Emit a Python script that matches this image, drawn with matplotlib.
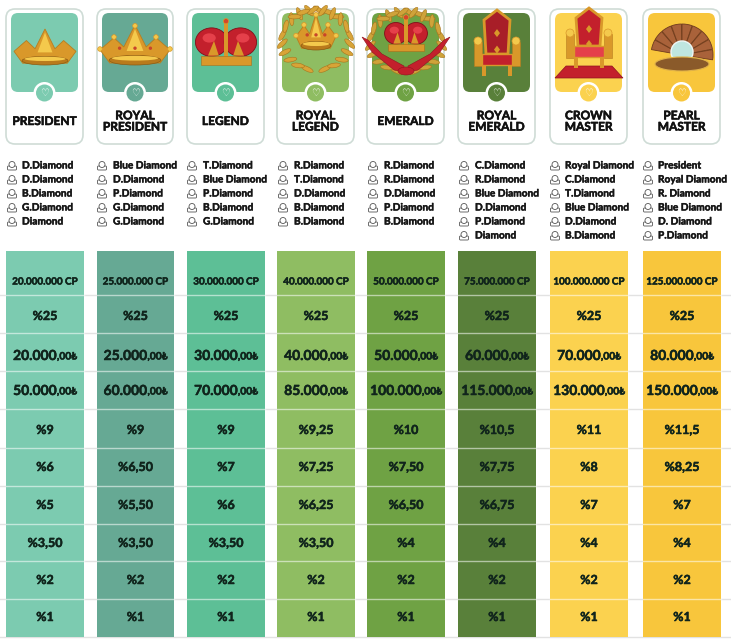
import numpy as np
import matplotlib
matplotlib.use('Agg')
import matplotlib.pyplot as plt
import matplotlib.patheffects as pe
from matplotlib.patches import Rectangle, FancyBboxPatch, Circle, Polygon, Ellipse, Wedge

plt.rcParams['font.family'] = ['Lato', 'DejaVu Sans']

# data
titles = ['PRESIDENT', 'ROYAL\nPRESIDENT', 'LEGEND', 'ROYAL\nLEGEND', 'EMERALD',
          'ROYAL\nEMERALD', 'CROWN\nMASTER', 'PEARL\nMASTER']
sponsors = [
    ['D.Diamond', 'D.Diamond', 'B.Diamond', 'G.Diamond', 'Diamond'],
    ['Blue Diamond', 'D.Diamond', 'P.Diamond', 'G.Diamond', 'G.Diamond'],
    ['T.Diamond', 'Blue Diamond', 'P.Diamond', 'B.Diamond', 'G.Diamond'],
    ['R.Diamond', 'T.Diamond', 'D.Diamond', 'B.Diamond', 'B.Diamond'],
    ['R.Diamond', 'R.Diamond', 'D.Diamond', 'P.Diamond', 'B.Diamond'],
    ['C.Diamond', 'R.Diamond', 'Blue Diamond', 'D.Diamond', 'P.Diamond', 'Diamond'],
    ['Royal Diamond', 'C.Diamond', 'T.Diamond', 'Blue Diamond', 'D.Diamond', 'B.Diamond'],
    ['President', 'Royal Diamond', 'R. Diamond', 'Blue Diamond', 'D. Diamond', 'P.Diamond'],
]
cp_req = ['20.000.000 CP', '25.000.000 CP', '30.000.000 CP', '40.000.000 CP',
          '50.000.000 CP', '75.000.000 CP', '100.000.000 CP', '125.000.000 CP']
rate_a = ['%25'] * 8
bonus_a = ['20.000', '25.000', '30.000', '40.000', '50.000', '60.000', '70.000', '80.000']
bonus_b = ['50.000', '60.000', '70.000', '85.000', '100.000', '115.000', '130.000', '150.000']
rate_b = ['%9', '%9', '%9', '%9,25', '%10', '%10,5', '%11', '%11,5']
rate_c = ['%6', '%6,50', '%7', '%7,25', '%7,50', '%7,75', '%8', '%8,25']
rate_d = ['%5', '%5,50', '%6', '%6,25', '%6,50', '%6,75', '%7', '%7']
rate_e = ['%3,50', '%3,50', '%3,50', '%3,50', '%4', '%4', '%4', '%4']
rate_f = ['%2'] * 8
rate_g = ['%1'] * 8
rows = [cp_req, rate_a, bonus_a, bonus_b, rate_b, rate_c, rate_d, rate_e, rate_f, rate_g]

# layout, in pixels of the image
left = [6, 97, 187, 277, 367, 458, 550, 643]
right = [84, 174, 265, 355, 445, 536, 628, 721]
colors = ['#7ccbb0', '#66a994', '#5dbf96', '#8fbd62', '#6fa244', '#59803a', '#fbd24f', '#f8c63c']
text_x = [22, 113, 203, 294, 384, 475, 565, 658]
icon_x = [12, 102, 192, 283, 373, 464, 555, 648]
line_y = [166, 180, 194, 208, 222, 236]
row_edges = [251, 295, 333, 371, 409, 448, 486, 524, 561, 599, 637]
row_text_y = [282, 316, 356, 391, 430, 467, 505, 543, 580, 617]
dark = '#10241c'
GOLD, GOLD2, RED, RED2 = '#d9982a', '#f4c94c', '#c3202c', '#e5404a'
thick = [pe.withStroke(linewidth=0.35, foreground=dark)]

fig = plt.figure(figsize=(7.31, 6.41), dpi=100)
ax = fig.add_axes([0, 0, 1, 1])
ax.set_xlim(0, 731)
ax.set_ylim(641, 0)
ax.axis('off')


def crown(cx, base, w, h, color=GOLD, top=GOLD2, balls=False, z=3):
    xs = [-0.5, -0.3, -0.16, 0, 0.16, 0.3, 0.5, 0.36, -0.36]
    ys = [0.62, 0.32, 0.55, 0, 0.55, 0.32, 0.62, 0.95, 0.95]
    pts = [(cx + x * w, base - h + y * h) for x, y in zip(xs, ys)]
    ax.add_patch(Polygon(pts, fc=color, ec='#b87d1e', lw=0.6, zorder=z))
    ax.add_patch(Polygon([(cx, base - h * 0.9), (cx + w * 0.12, base - h * 0.35), (cx - w * 0.12, base - h * 0.35)],
                         fc=top, ec='none', zorder=z + 0.1))
    ax.add_patch(Ellipse((cx, base - h * 0.12), w * 0.74, h * 0.24, fc='#b97a1c', ec='#8b5a12', lw=0.5, zorder=z + 0.2))
    ax.add_patch(Ellipse((cx, base - h * 0.17), w * 0.66, h * 0.12, fc=top, ec='none', zorder=z + 0.3))
    if balls:
        for x, y in [(-0.5, 0.6), (-0.3, 0.3), (0, 0.02), (0.3, 0.3), (0.5, 0.6)]:
            ax.add_patch(Circle((cx + x * w, base - h + y * h), 2.3, fc=top, ec=color, lw=0.5, zorder=z + 0.4))
        for x in (-0.22, 0, 0.22):
            ax.add_patch(Circle((cx + x * w, base - h * 0.42), 1.7, fc='#c8452a', zorder=z + 0.4))


def red_crown(cx, base, w, h, z=3):
    for side in (-1, 1):
        ax.add_patch(Ellipse((cx + side * w * 0.24, base - h * 0.52), w * 0.54, h * 0.68, fc=RED, ec='#7e1019', lw=0.6, zorder=z))
        ax.add_patch(Ellipse((cx + side * w * 0.28, base - h * 0.62), w * 0.22, h * 0.22, fc=RED2, ec='none', zorder=z + 0.1))
        ax.add_patch(Polygon([(cx + side * w * 0.12, base - h * 0.2), (cx + side * w * 0.2, base - h * 0.55),
                              (cx + side * w * 0.3, base - h * 0.2)], fc=GOLD, ec='none', zorder=z + 0.2))
    ax.add_patch(Rectangle((cx - 2, base - h * 1.0), 4, h * 0.98, fc=GOLD, zorder=z + 0.3))
    ax.add_patch(Circle((cx, base - h * 1.02), 2.6, fc='#d5452c', ec=GOLD, lw=0.5, zorder=z + 0.4))
    ax.add_patch(Rectangle((cx - w * 0.42, base - h * 0.18), w * 0.84, h * 0.2, fc=GOLD, ec='#a86e18', lw=0.4, zorder=z + 0.5))


def laurel(cx, cy, rx, ry, color, leaf):
    for side in (-1, 1):
        for deg in range(-75, 130, 17):
            a = np.deg2rad(deg)
            x = cx + side * rx * np.cos(a)
            y = cy - ry * np.sin(a)
            ax.add_patch(Ellipse((x, y), 13, 4.5, angle=side * (deg + 50), fc=leaf, ec=color, lw=0.4, zorder=2.5))


def throne(cx, base, back, seat, trim, top):
    ax.add_patch(Polygon([(cx - 11, base - 22), (cx - 13, top + 10), (cx, top), (cx + 13, top + 10), (cx + 11, base - 22)],
                         fc=back, ec=trim, lw=2, zorder=3))
    for dy in (0.35, 0.6):
        ax.add_patch(Polygon([(cx, top + dy * (base - top) - 4), (cx + 3, top + dy * (base - top)),
                              (cx, top + dy * (base - top) + 4), (cx - 3, top + dy * (base - top))], fc=trim, zorder=3.2))
    for side in (-1, 1):
        ax.add_patch(Rectangle((cx + side * 19 - 4, base - 34), 8, 24, fc=trim, ec='#b87d1e', lw=0.4, zorder=4))
        ax.add_patch(Circle((cx + side * 19, base - 35), 4, fc=GOLD2, ec=trim, lw=0.5, zorder=4))
        ax.add_patch(Rectangle((cx + side * 13 - 2, base - 11), 4, 11, fc=trim, zorder=4))
    ax.add_patch(Rectangle((cx - 15, base - 22), 30, 11, fc=seat, ec=trim, lw=1, zorder=4))


# cards
for i in range(8):
    x0, x1, c = left[i], right[i] - 1, colors[i]
    ax.add_patch(FancyBboxPatch((x0 + 4, 13), x1 - x0 - 8, 127, boxstyle='round,pad=4,rounding_size=9',
                                fc='white', ec='#cfdcd6', lw=1.2, zorder=1))
    ax.add_patch(FancyBboxPatch((x0 + 10, 18), x1 - x0 - 20, 69, boxstyle='round,pad=5,rounding_size=7',
                                fc=c, ec='none', zorder=1.5))
    cx = (x0 + x1) / 2
    ax.add_patch(Circle((cx, 93), 11, fc='white', ec='none', zorder=6))
    ax.add_patch(Circle((cx, 93), 8.5, fc=c, ec='none', zorder=6))
    ax.text(cx, 93, '\u2661', color='white', fontsize=7, ha='center', va='center',
            family=['DejaVu Sans'], zorder=7)
    ax.text(cx, 121.5, titles[i], color='#111', fontsize=8.6, fontweight='bold', ha='center',
            va='center', linespacing=1.02, zorder=7, path_effects=[pe.withStroke(linewidth=0.4, foreground='#111')])

# icons of the ranks
crown(45, 65, 62, 36)
crown(135, 65, 70, 40, balls=True)
red_crown(226, 64, 60, 42)
laurel(316, 40, 34, 30, '#a8741c', '#d8a437')
crown(316, 50, 40, 36, balls=True)
laurel(406, 42, 36, 30, '#a8741c', '#cfa33a')
for side in (-1, 1):
    ax.add_patch(Polygon([(406 + side * 44, 37), (406 + side * 34, 52), (406 + side * 12, 70), (406 + side * 2, 72),
                          (406 + side * 2, 66), (406 + side * 24, 54), (406 + side * 38, 40)],
                         fc=RED, ec='#8e1420', lw=0.4, zorder=2.7))
ax.add_patch(Ellipse((406, 71), 16, 8, fc=RED, ec='#8e1420', lw=0.4, zorder=2.8))
red_crown(406, 50, 42, 32)
throne(497, 76, '#a81e28', RED, GOLD, 10)
ax.add_patch(Polygon([(555, 78), (566, 66), (612, 66), (623, 78)], fc=RED, ec='#8e1420', lw=0.5, zorder=3))
throne(589, 68, RED, RED2, GOLD, 8)
for deg in range(190, 360, 20):
    ax.add_patch(Wedge((682, 55), 31, deg, deg + 19, fc='#a9623a', ec='#6e3a1e', lw=0.6, zorder=3))
ax.add_patch(Circle((682, 52), 11, fc='#bfe6e0', ec='#eef7f6', lw=1, zorder=4))
ax.add_patch(Ellipse((682, 64), 54, 14, fc='#8a5a2a', ec='#e0b24a', lw=0.8, zorder=5))

# sponsor lists
for i, names in enumerate(sponsors):
    for j, name in enumerate(names):
        ax.add_patch(FancyBboxPatch((icon_x[i] - 4, line_y[j] + 0.5), 8, 3, boxstyle='round,pad=0.5,rounding_size=1',
                                    fc='white', ec='#555', lw=0.6, zorder=2))
        ax.add_patch(Circle((icon_x[i], line_y[j] - 1.5), 3, fc='white', ec='#555', lw=0.6, zorder=3))
        ax.text(text_x[i], line_y[j], name, color='#161616', fontsize=7.3, fontweight='bold',
                ha='left', va='center', path_effects=[pe.withStroke(linewidth=0.3, foreground='#161616')])

# table
for y in row_edges[1:]:
    ax.plot([0, 731], [y, y], color='#e2e2e2', lw=1, zorder=1)

r = fig.canvas.get_renderer()
for i in range(8):
    ax.add_patch(Rectangle((left[i], row_edges[0]), right[i] - left[i], row_edges[-1] - row_edges[0],
                           fc=colors[i], ec='none', zorder=2))
    for y in row_edges[1:-1]:
        ax.plot([left[i], right[i]], [y, y], color='white', alpha=0.55, lw=1, zorder=3)
    cx = (left[i] + right[i]) / 2
    for k, row in enumerate(rows):
        if row is cp_req:
            ax.text(cx, row_text_y[k], row[i], color=dark, fontsize=7.1, fontweight='bold',
                    ha='center', va='center', zorder=4, path_effects=thick)
        elif row is bonus_a or row is bonus_b:
            big = ax.text(0, row_text_y[k], row[i], color=dark, fontsize=10, fontweight='bold',
                          va='center', zorder=4, path_effects=thick)
            small = ax.text(0, row_text_y[k] + 1, ',00\u20ba', color=dark, fontsize=7.4, fontweight='bold',
                            va='center', zorder=4, path_effects=thick)
            w1 = big.get_window_extent(r).width
            w2 = small.get_window_extent(r).width
            big.set_x(cx - (w1 + w2) / 2)
            small.set_x(cx - (w1 + w2) / 2 + w1)
        else:
            ax.text(cx, row_text_y[k], row[i], color=dark, fontsize=9, fontweight='bold',
                    ha='center', va='center', zorder=4, path_effects=thick)

fig.savefig('out.png', dpi=100)
